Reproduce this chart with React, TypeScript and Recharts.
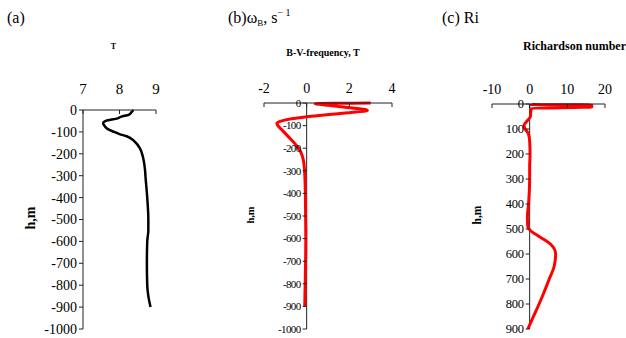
import React from "react";
import { LineChart, Line, XAxis, YAxis, ReferenceLine } from "recharts";

// (a) temperature profile
const depthA = [0, -10, -22, -30, -38, -50, -60, -70, -85, -100, -110, -120, -145, -175, -220, -275, -300, -400, -500, -550, -600, -700, -800, -850, -900];
const tempA = [8.38, 8.33, 8.25, 8.05, 7.95, 7.62, 7.55, 7.58, 7.66, 7.85, 8.0, 8.2, 8.42, 8.56, 8.65, 8.7, 8.71, 8.76, 8.79, 8.79, 8.76, 8.75, 8.76, 8.79, 8.85];
const ticksAx = [7, 8, 9];
const ticksAy = [0, -100, -200, -300, -400, -500, -600, -700, -800, -900, -1000];

// (b) Brunt-Vaisala frequency
const depthB = [0, -3, -6, -10, -20, -30, -34, -40, -50, -60, -70, -80, -90, -100, -115, -130, -150, -175, -200, -230, -260, -300, -400, -500, -600, -700, -800, -900];
const bvB = [3.0, 0.4, 0.6, 1.0, 1.9, 2.8, 2.85, 2.3, 1.2, 0.1, -0.7, -1.2, -1.4, -1.35, -1.2, -1.05, -0.85, -0.6, -0.38, -0.22, -0.14, -0.1, -0.06, -0.05, -0.04, -0.05, -0.07, -0.09];
const ticksBx = [-2, 0, 2, 4];
const ticksBy = [0, -100, -200, -300, -400, -500, -600, -700, -800, -900, -1000];

// (c) Richardson number
const depthC = [0, 2, 4, 12, 17, 30, 50, 70, 85, 100, 120, 150, 200, 250, 300, 350, 400, 450, 490, 510, 530, 560, 600, 650, 700, 750, 800, 850, 900];
const riC = [0.3, 0.3, 16.5, 16.5, 0.5, 0.3, 0.2, -0.8, -1.5, -1.2, -0.3, 0, 0.1, 0, 0, -0.1, -0.3, -0.6, -0.5, 0.5, 2.5, 5.5, 6.9, 6.5, 5.2, 3.9, 2.5, 1.0, -0.5];
const ticksCx = [-10, 0, 10, 20];
const ticksCy = [0, 100, 200, 300, 400, 500, 600, 700, 800, 900];

const FONT = "'Liberation Serif', 'Times New Roman', serif";
const AXIS = "#222";

const dataA = depthA.map((h, i) => ({ h, v: tempA[i] }));
const dataB = depthB.map((h, i) => ({ h, v: bvB[i] }));
const dataC = depthC.map((h, i) => ({ h, v: riC[i] }));

function TopTick(props: any) {
  const { x, y, payload, lift, size } = props;
  return (
    <g>
      <line x1={x} y1={y} x2={x} y2={y + 4} stroke={AXIS} />
      <text x={x} y={y - lift} textAnchor="middle" style={{ fontFamily: FONT, fontSize: size }} fill="#000">
        {payload.value}
      </text>
    </g>
  );
}

function LeftTick(props: any) {
  const { x, y, payload, shift, size, squeeze } = props;
  const ax = x + shift;
  return (
    <g>
      <line x1={ax - 4} y1={y} x2={ax} y2={y} stroke={AXIS} />
      <text
        x={ax - 6}
        y={y}
        dy="0.35em"
        textAnchor="end"
        style={{ fontFamily: FONT, fontSize: size, letterSpacing: squeeze }}
        fill="#000"
      >
        {payload.value}
      </text>
    </g>
  );
}

export default function App() {
  return (
    <div style={{ position: "absolute", left: 0, top: 0, width: 626, height: 338, background: "#fff", fontFamily: FONT }}>
      <div style={{ position: "absolute", left: 0, top: 0 }}>
        <LineChart width={200} height={338} layout="vertical" data={dataA} margin={{ top: 80, right: 44, bottom: 9, left: 23 }}>
          <XAxis
            type="number"
            orientation="top"
            domain={[7, 9]}
            ticks={ticksAx}
            interval={0}
            height={30}
            axisLine={{ stroke: AXIS }}
            tickLine={false}
            tickSize={0}
            tickMargin={0}
            tick={(p: any) => <TopTick x={p.x} y={p.y} payload={p.payload} lift={16} size={15} />}
          />
          <YAxis
            type="number"
            dataKey="h"
            domain={[-1000, 0]}
            reversed
            ticks={ticksAy}
            interval={0}
            width={60}
            axisLine={{ stroke: AXIS }}
            tickLine={false}
            tickSize={0}
            tickMargin={0}
            tick={(p: any) => <LeftTick x={p.x} y={p.y} payload={p.payload} shift={0} size={14} squeeze={0} />}
          />
          <Line type="monotone" dataKey="v" stroke="#000" strokeWidth={2.5} dot={false} isAnimationActive={false} />
        </LineChart>
      </div>

      <div style={{ position: "absolute", left: 210, top: 0 }}>
        <LineChart width={200} height={338} layout="vertical" data={dataB} margin={{ top: 73, right: 18, bottom: 9, left: 14 }}>
          <XAxis
            type="number"
            orientation="top"
            domain={[-2, 4]}
            ticks={ticksBx}
            interval={0}
            height={30}
            axisLine={{ stroke: AXIS }}
            tickLine={false}
            tickSize={0}
            tickMargin={0}
            tick={(p: any) => <TopTick x={p.x} y={p.y} payload={p.payload} lift={10} size={14} />}
          />
          <YAxis
            type="number"
            dataKey="h"
            domain={[-1000, 0]}
            reversed
            ticks={ticksBy}
            interval={0}
            width={40}
            axisLine={false}
            tickLine={false}
            tickSize={0}
            tickMargin={0}
            tick={(p: any) => <LeftTick x={p.x} y={p.y} payload={p.payload} shift={(128 * 2) / 6} size={11} squeeze={-0.6} />}
          />
          <ReferenceLine x={0} stroke={AXIS} />
          <Line type="monotone" dataKey="v" stroke="#ff0000" strokeWidth={3} dot={false} isAnimationActive={false} />
        </LineChart>
      </div>

      <div style={{ position: "absolute", left: 420, top: 0 }}>
        <LineChart width={206} height={338} layout="vertical" data={dataC} margin={{ top: 74, right: 21, bottom: 9, left: 32 }}>
          <XAxis
            type="number"
            orientation="top"
            domain={[-10, 20]}
            ticks={ticksCx}
            interval={0}
            height={30}
            axisLine={{ stroke: AXIS }}
            tickLine={false}
            tickSize={0}
            tickMargin={0}
            tick={(p: any) => <TopTick x={p.x} y={p.y} payload={p.payload} lift={10} size={14} />}
          />
          <YAxis
            type="number"
            dataKey="h"
            domain={[0, 900]}
            ticks={ticksCy}
            interval={0}
            width={40}
            axisLine={false}
            tickLine={false}
            tickSize={0}
            tickMargin={0}
            tick={(p: any) => <LeftTick x={p.x} y={p.y} payload={p.payload} shift={113 / 3} size={12.5} squeeze={-0.3} />}
          />
          <ReferenceLine x={0} stroke={AXIS} />
          <Line type="monotone" dataKey="v" stroke="#ff0000" strokeWidth={3} dot={false} isAnimationActive={false} />
        </LineChart>
      </div>

      <svg width={626} height={338} style={{ position: "absolute", left: 0, top: 0, pointerEvents: "none", fontFamily: FONT }}>
        <text x={7} y={23} fontSize={16}>(a)</text>
        <text x={113.5} y={49} fontSize={8} fontWeight="bold" textAnchor="middle">T</text>
        <text x={30} y={218} fontSize={14} fontWeight="bold" textAnchor="middle" dy="0.35em" transform="rotate(-90 30 218)">h,m</text>

        <text x={228} y={23} fontSize={16}>
          (b)ω<tspan fontSize={9} dy={3}>B</tspan>
          <tspan dy={-3}>, s</tspan>
          <tspan fontSize={10} dy={-7}>{"\u2212 1"}</tspan>
        </text>
        <text x={323} y={56} fontSize={10} fontWeight="bold" textAnchor="middle">B-V-frequency, T</text>
        <text x={250} y={215} fontSize={10.5} fontWeight="bold" textAnchor="middle" dy="0.35em" transform="rotate(-90 250 215)">h,m</text>

        <text x={442} y={23} fontSize={16}>(c) Ri</text>
        <text x={523} y={50} fontSize={12} fontWeight="bold">Richardson number</text>
        <text x={477} y={215} fontSize={11.5} fontWeight="bold" textAnchor="middle" dy="0.35em" transform="rotate(-90 477 215)">h,m</text>
      </svg>
    </div>
  );
}
